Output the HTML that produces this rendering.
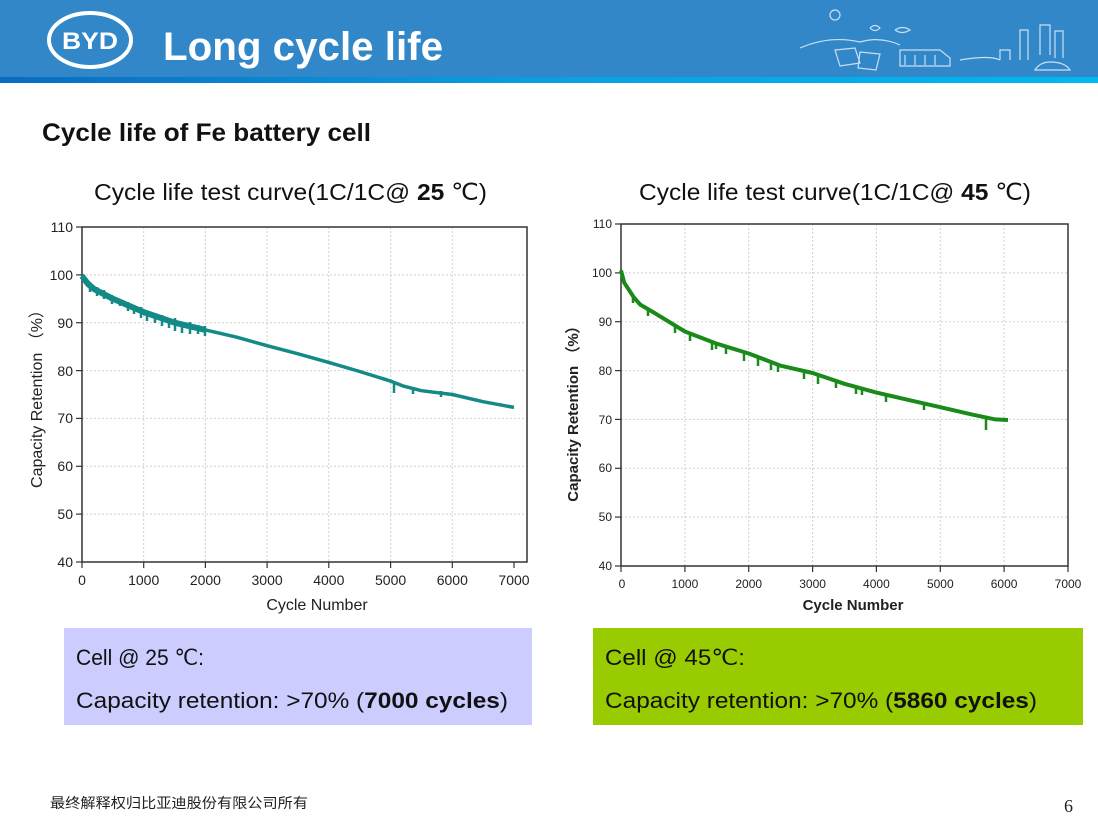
<!DOCTYPE html>
<html><head><meta charset="utf-8"><style>
html,body{margin:0;padding:0;background:#fff;}
body{width:1098px;height:823px;overflow:hidden;position:relative;font-family:"Liberation Sans","Noto Sans CJK SC",sans-serif;}
</style></head><body>
<svg width="1098" height="823" style="position:absolute;left:0;top:0" font-family="Liberation Sans, sans-serif">
<defs>
<linearGradient id="g" x1="0" x2="1"><stop offset="0" stop-color="#0a6cbf"/><stop offset="0.5" stop-color="#0aa0e0"/><stop offset="1" stop-color="#00b8f2"/></linearGradient>
</defs>
<rect x="0" y="0" width="1098" height="77" fill="#3287c9"/>
<rect x="0" y="77" width="1098" height="6" fill="url(#g)"/>
<ellipse cx="90" cy="40" rx="41" ry="27" fill="none" stroke="#fff" stroke-width="4"/>
<text x="90" y="49" text-anchor="middle" font-size="24" font-weight="bold" fill="#fff" textLength="56" lengthAdjust="spacingAndGlyphs">BYD</text>
<text x="163" y="60" font-size="40" font-weight="bold" fill="#fff" textLength="280" lengthAdjust="spacingAndGlyphs">Long cycle life</text>
<g stroke="#dbe9f7" stroke-width="1.2" fill="none" opacity="0.9">
<circle cx="835" cy="15" r="5"/>
<path d="M800 48 Q830 35 860 42 Q880 36 900 45"/>
<path d="M835 50 l20 -2 l5 15 l-20 3 z M860 52 l20 2 l-4 16 l-18 -2z"/>
<path d="M900 50 h40 l10 8 v8 h-50z M905 55 v10 M915 55 v10 M925 55 v10 M935 55 v10"/>
<path d="M960 60 Q990 55 1000 60 M1000 60 v-10 h10 v10 M1020 60 v-30 h8 v30 M1040 55 v-30 h10 v30 M1055 58 v-27 h8 v27"/>
<path d="M1035 70 q5 -8 15 -8 q15 0 20 8 z"/>
<path d="M870 28 q5 -5 10 0 q-5 5 -10 0 M895 30 q8 -5 15 0 q-8 5 -15 0"/>
</g>
<text x="42" y="141" font-size="25" font-weight="bold" fill="#111" textLength="329" lengthAdjust="spacingAndGlyphs">Cycle life of Fe battery cell</text>
<text x="94" y="200" font-size="23" fill="#111" textLength="393" lengthAdjust="spacingAndGlyphs">Cycle life test curve(1C/1C@ <tspan font-weight="bold">25</tspan> ℃)</text>
<text x="639" y="200" font-size="23" fill="#111" textLength="392" lengthAdjust="spacingAndGlyphs">Cycle life test curve(1C/1C@ <tspan font-weight="bold">45</tspan> ℃)</text>

<!-- LEFT CHART -->
<g>
<g stroke="#d0d0d0" stroke-dasharray="2,2" stroke-width="1">
<line x1="82" x2="527" y1="274.9" y2="274.9"/><line x1="82" x2="527" y1="322.7" y2="322.7"/><line x1="82" x2="527" y1="370.6" y2="370.6"/><line x1="82" x2="527" y1="418.4" y2="418.4"/><line x1="82" x2="527" y1="466.3" y2="466.3"/><line x1="82" x2="527" y1="514.1" y2="514.1"/>
<line y1="227" y2="562" x1="143.7" x2="143.7"/><line y1="227" y2="562" x1="205.4" x2="205.4"/><line y1="227" y2="562" x1="267.1" x2="267.1"/><line y1="227" y2="562" x1="328.8" x2="328.8"/><line y1="227" y2="562" x1="390.6" x2="390.6"/><line y1="227" y2="562" x1="452.3" x2="452.3"/>
</g>
<rect x="82" y="227" width="445" height="335" fill="none" stroke="#333" stroke-width="1.5"/>
<g stroke="#333" stroke-width="1.2">
<line x1="76" x2="82" y1="227" y2="227"/><line x1="76" x2="82" y1="274.9" y2="274.9"/><line x1="76" x2="82" y1="322.7" y2="322.7"/><line x1="76" x2="82" y1="370.6" y2="370.6"/><line x1="76" x2="82" y1="418.4" y2="418.4"/><line x1="76" x2="82" y1="466.3" y2="466.3"/><line x1="76" x2="82" y1="514.1" y2="514.1"/><line x1="76" x2="82" y1="562" y2="562"/>
<line x1="82" x2="82" y1="562" y2="568"/><line x1="143.7" x2="143.7" y1="562" y2="568"/><line x1="205.4" x2="205.4" y1="562" y2="568"/><line x1="267.1" x2="267.1" y1="562" y2="568"/><line x1="328.8" x2="328.8" y1="562" y2="568"/><line x1="390.6" x2="390.6" y1="562" y2="568"/><line x1="452.3" x2="452.3" y1="562" y2="568"/><line x1="514" x2="514" y1="562" y2="568"/>
</g>
<g font-size="14" fill="#222" text-anchor="end">
<text x="73" y="232">110</text><text x="73" y="280">100</text><text x="73" y="328">90</text><text x="73" y="376">80</text><text x="73" y="423">70</text><text x="73" y="471">60</text><text x="73" y="519">50</text><text x="73" y="567">40</text>
</g>
<g font-size="14" fill="#222" text-anchor="middle">
<text x="82" y="585">0</text><text x="143.7" y="585">1000</text><text x="205.4" y="585">2000</text><text x="267.1" y="585">3000</text><text x="328.8" y="585">4000</text><text x="390.6" y="585">5000</text><text x="452.3" y="585">6000</text><text x="514" y="585">7000</text>
</g>
<text x="317" y="610" font-size="16" fill="#222" text-anchor="middle">Cycle Number</text>
<text transform="translate(42,395) rotate(-90)" font-size="16" fill="#222" text-anchor="middle">Capacity Retention （%）</text>
<polyline fill="none" stroke="#148a86" stroke-width="6" stroke-linejoin="round" points="82,276 88,284 94.3,289.2 112.9,298.8 143.7,312.1 174.6,322.7 205.4,329.9"/>
<polyline fill="none" stroke="#148a86" stroke-width="3.5" stroke-linejoin="round" points="82,274.9 94.3,289.2 112.9,298.8 143.7,313.1 174.6,322.7 205.4,329.9 236.3,337.1 267.1,345.7 298,353.8 328.8,362.4 359.7,371.5 390.6,381.1 402.9,385.9 421.4,390.7 452.3,394.5 483.1,401.7 514,407.4"/>
<g stroke="#148a86" stroke-width="2.5">
<line x1="90" x2="90" y1="282" y2="292"/><line x1="97" x2="97" y1="287" y2="296"/><line x1="104" x2="104" y1="290" y2="299"/><line x1="112" x2="112" y1="295" y2="304"/><line x1="120" x2="120" y1="299" y2="306"/><line x1="128" x2="128" y1="302" y2="311"/><line x1="134" x2="134" y1="305" y2="314"/><line x1="141" x2="141" y1="307" y2="318"/><line x1="147" x2="147" y1="311" y2="321"/><line x1="155" x2="155" y1="313" y2="323"/><line x1="162" x2="162" y1="315" y2="326"/><line x1="169" x2="169" y1="318" y2="328"/><line x1="175" x2="175" y1="318" y2="331"/><line x1="182" x2="182" y1="322" y2="333"/><line x1="190" x2="190" y1="322" y2="334"/><line x1="198" x2="198" y1="325" y2="334"/><line x1="205" x2="205" y1="326" y2="336"/>
<line x1="394" x2="394" y1="381" y2="393"/><line x1="413" x2="413" y1="387" y2="394"/><line x1="441" x2="441" y1="391" y2="397"/>
</g>
</g>

<!-- RIGHT CHART -->
<g>
<g stroke="#d0d0d0" stroke-dasharray="2,2" stroke-width="1">
<line x1="621" x2="1068" y1="272.9" y2="272.9"/><line x1="621" x2="1068" y1="321.7" y2="321.7"/><line x1="621" x2="1068" y1="370.6" y2="370.6"/><line x1="621" x2="1068" y1="419.4" y2="419.4"/><line x1="621" x2="1068" y1="468.3" y2="468.3"/><line x1="621" x2="1068" y1="517.1" y2="517.1"/>
<line y1="224" y2="566" x1="684.9" x2="684.9"/><line y1="224" y2="566" x1="748.7" x2="748.7"/><line y1="224" y2="566" x1="812.6" x2="812.6"/><line y1="224" y2="566" x1="876.4" x2="876.4"/><line y1="224" y2="566" x1="940.3" x2="940.3"/><line y1="224" y2="566" x1="1004.1" x2="1004.1"/>
</g>
<rect x="621" y="224" width="447" height="342" fill="none" stroke="#333" stroke-width="1.5"/>
<g stroke="#333" stroke-width="1.2">
<line x1="615" x2="621" y1="224" y2="224"/><line x1="615" x2="621" y1="272.9" y2="272.9"/><line x1="615" x2="621" y1="321.7" y2="321.7"/><line x1="615" x2="621" y1="370.6" y2="370.6"/><line x1="615" x2="621" y1="419.4" y2="419.4"/><line x1="615" x2="621" y1="468.3" y2="468.3"/><line x1="615" x2="621" y1="517.1" y2="517.1"/><line x1="615" x2="621" y1="566" y2="566"/>
<line x1="621" x2="621" y1="566" y2="572"/><line x1="684.9" x2="684.9" y1="566" y2="572"/><line x1="748.7" x2="748.7" y1="566" y2="572"/><line x1="812.6" x2="812.6" y1="566" y2="572"/><line x1="876.4" x2="876.4" y1="566" y2="572"/><line x1="940.3" x2="940.3" y1="566" y2="572"/><line x1="1004.1" x2="1004.1" y1="566" y2="572"/><line x1="1068" x2="1068" y1="566" y2="572"/>
</g>
<g font-size="12" fill="#222" text-anchor="end">
<text x="612" y="228">110</text><text x="612" y="277">100</text><text x="612" y="326">90</text><text x="612" y="375">80</text><text x="612" y="424">70</text><text x="612" y="472">60</text><text x="612" y="521">50</text><text x="612" y="570">40</text>
</g>
<g font-size="12" fill="#222" text-anchor="middle">
<text x="622" y="588">0</text><text x="684.9" y="588">1000</text><text x="748.7" y="588">2000</text><text x="812.6" y="588">3000</text><text x="876.4" y="588">4000</text><text x="940.3" y="588">5000</text><text x="1004.1" y="588">6000</text><text x="1068" y="588">7000</text>
</g>
<text x="853" y="610" font-size="15" font-weight="bold" fill="#222" text-anchor="middle">Cycle Number</text>
<text transform="translate(578,410) rotate(-90)" font-size="15" font-weight="bold" fill="#222" text-anchor="middle">Capacity Retention （%）</text>
<polyline fill="none" stroke="#1a8a1a" stroke-width="4" stroke-linejoin="round" points="621,270.4 624.2,282.6 633.8,297.3 640.2,304.6 652.9,312 684.9,331.5 716.8,343.7 748.7,353.5 780.7,365.7 812.6,373 844.5,383.8 876.4,392.6 908.4,399.9 940.3,407.2 972.2,414.6 995.2,419.4 1008,420"/>
<g stroke="#1a8a1a" stroke-width="2.5">
<line x1="633" x2="633" y1="296" y2="303"/><line x1="648" x2="648" y1="308" y2="316"/><line x1="675" x2="675" y1="326" y2="333"/><line x1="690" x2="690" y1="332" y2="341"/><line x1="712" x2="712" y1="340" y2="350"/><line x1="716" x2="716" y1="342" y2="349"/><line x1="726" x2="726" y1="346" y2="354"/><line x1="744" x2="744" y1="352" y2="361"/><line x1="758" x2="758" y1="357" y2="366"/><line x1="771" x2="771" y1="361" y2="370"/><line x1="778" x2="778" y1="364" y2="372"/><line x1="804" x2="804" y1="370" y2="379"/><line x1="818" x2="818" y1="375" y2="384"/><line x1="836" x2="836" y1="381" y2="388"/><line x1="856" x2="856" y1="386" y2="394"/><line x1="862" x2="862" y1="388" y2="395"/><line x1="886" x2="886" y1="394" y2="402"/><line x1="924" x2="924" y1="403" y2="410"/><line x1="986" x2="986" y1="417" y2="430"/>
</g>
</g>

<rect x="64" y="628" width="468" height="97" fill="#ccccff"/>
<rect x="593" y="628" width="490" height="97" fill="#99cc00"/>
<g font-size="22" fill="#111">
<text x="76" y="665" textLength="128" lengthAdjust="spacingAndGlyphs">Cell @ 25 ℃:</text>
<text x="76" y="708" textLength="432" lengthAdjust="spacingAndGlyphs">Capacity retention: &gt;70% (<tspan font-weight="bold">7000 cycles</tspan>)</text>
<text x="605" y="665" textLength="140" lengthAdjust="spacingAndGlyphs">Cell @ 45℃:</text>
<text x="605" y="708" textLength="432" lengthAdjust="spacingAndGlyphs">Capacity retention: &gt;70% (<tspan font-weight="bold">5860 cycles</tspan>)</text>
</g>
<text x="50" y="808" font-size="14" fill="#222" font-family="Noto Sans CJK SC, sans-serif" textLength="258" lengthAdjust="spacingAndGlyphs">最终解释权归比亚迪股份有限公司所有</text>
<text x="1064" y="812" font-size="18" fill="#222" font-family="Liberation Serif, serif">6</text>
</svg>
</body></html>
